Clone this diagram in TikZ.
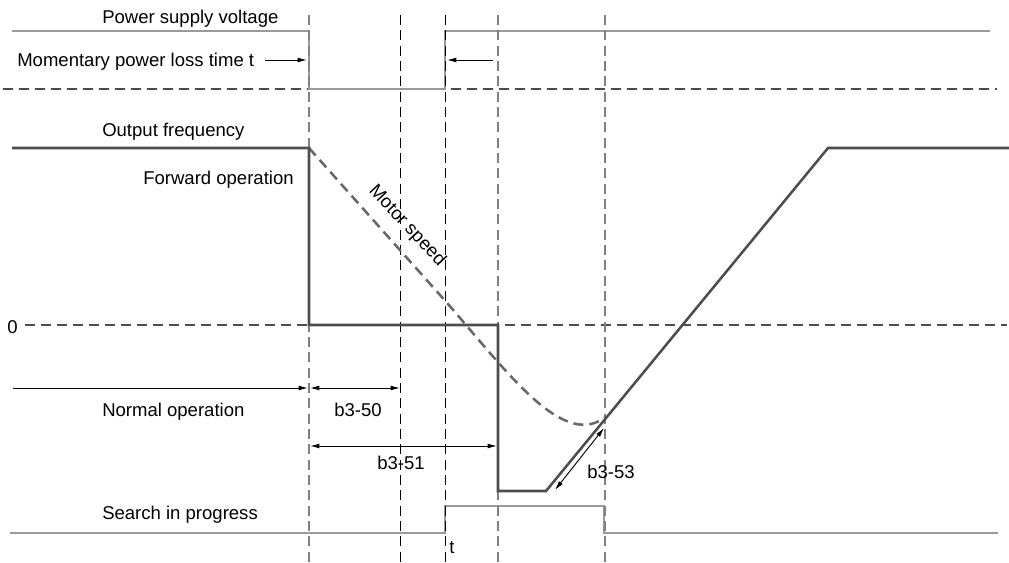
\documentclass[tikz,border=0pt]{standalone}
\usepackage{fontspec}
\setmainfont{Liberation Sans}
\usetikzlibrary{arrows.meta}
\definecolor{sigl}{HTML}{9A9A9A}
\definecolor{sigd}{HTML}{4D4D4D}
\definecolor{grid}{HTML}{808080}
\tikzset{
  lbl/.style={font=\fontsize{13.9}{16}\selectfont, inner sep=0pt, anchor=base west},
  vgray/.style={draw=grid, line width=1.1pt, dash pattern=on 7.5pt off 4pt},
  vblack/.style={draw=black, line width=0.7pt, dash pattern=on 7.5pt off 4pt},
  hdash/.style={draw=sigd, line width=0.9pt, dash pattern=on 7.5pt off 4.5pt},
  lightsig/.style={draw=sigl, line width=1.9pt},
  darksig/.style={draw=sigd, line width=1.9pt, line join=miter},
  motor/.style={draw=sigd!85, line width=1.9pt, dash pattern=on 7.5pt off 4.5pt},
  dim/.style={draw=black, line width=0.7pt, -{Latex[length=7pt,width=3.6pt]}},
  ddim/.style={draw=black, line width=0.7pt, {Latex[length=7pt,width=3.6pt]}-{Latex[length=7pt,width=3.6pt]}}
}
\begin{document}
\begin{tikzpicture}[x=0.75pt,y=-0.75pt]
\useasboundingbox (0,0) rectangle (1009,563);

% vertical guide lines
\coordinate (v1t) at (309,15); \coordinate (v1b) at (309,563);
\coordinate (v2t) at (400,15); \coordinate (v2b) at (400,563);
\coordinate (v3t) at (445,15); \coordinate (v3b) at (445,563);
\coordinate (v4t) at (498,15); \coordinate (v4b) at (498,563);
\coordinate (v5t) at (605,15); \coordinate (v5b) at (605,563);

% horizontal dashed lines
\coordinate (h1l) at (3,89); \coordinate (h1r) at (997,89);
\coordinate (h0l) at (25,325); \coordinate (h0r) at (1007,325);
\draw[hdash] (h1l) -- (h1r);
\draw[hdash] (h0l) -- (h0r);

% power supply voltage
\coordinate (p0) at (12,31); \coordinate (p1) at (309,31); \coordinate (p2) at (309,89);
\coordinate (p3) at (445,89); \coordinate (p4) at (445,31); \coordinate (p5) at (990,31);
\draw[lightsig] (p0) -- (p1) -- (p2) -- (p3) -- (p4) -- (p5);

% search in progress
\coordinate (s0) at (10,533); \coordinate (s1) at (445,533); \coordinate (s2) at (445,506);
\coordinate (s3) at (604,506); \coordinate (s4) at (604,533); \coordinate (s5) at (998,533);
\draw[lightsig] (s0) -- (s1) -- (s2) -- (s3) -- (s4) -- (s5);

% vertical lines on top
\draw[vgray] (v1t) -- (v1b);
\draw[vblack] (v2t) -- (v2b);
\draw[vblack] (v3t) -- (v3b);
\draw[vgray] (v4t) -- (v4b);
\draw[vgray] (v5t) -- (v5b);

% motor speed
\coordinate (m0) at (309,148); \coordinate (m1) at (440,295); \coordinate (m2) at (604,418);
\draw[motor] (m0) -- (m1) .. controls (500,362) and (560,450) .. (m2);

% output frequency
\coordinate (f0) at (12,148); \coordinate (f1) at (309,148); \coordinate (f2) at (309,325);
\coordinate (f3) at (498,325); \coordinate (f4) at (498,491); \coordinate (f5) at (546,491);
\coordinate (f6) at (828,148); \coordinate (f7) at (1009,148);
\draw[darksig] (f0) -- (f1) -- (f2) -- (f3) -- (f4) -- (f5) -- (f6) -- (f7);

% labels
\node[lbl] (tpsv) at (102,24) {Power supply voltage};
\node[lbl] (tmpl) at (17,67) {Momentary power loss time t};
\node[lbl] (tof) at (102,137) {Output frequency};
\node[lbl] (tfo) at (143,185) {Forward operation};
\node[lbl] (tzero) at (7,333) {0};
\node[lbl] (tno) at (102,416) {Normal operation};
\node[lbl] (tsip) at (102,519) {Search in progress};
\node[lbl] (tb50) at (334,416) {b3-50};
\node[lbl] (tb51) at (377,469) {b3-51};
\node[lbl] (tb53) at (587,478) {b3-53};
\node[lbl] (tt) at (449,553) {t};
\node[font=\fontsize{13.9}{16}\selectfont, inner sep=0pt, rotate=-47] (tms) at (407,226) {Motor speed};

% dimension arrows
\coordinate (a1s) at (265,60); \coordinate (a1e) at (307,60);
\coordinate (a2s) at (493,60); \coordinate (a2e) at (447,60);
\draw[dim] (a1s) -- (a1e);
\draw[dim] (a2s) -- (a2e);
\coordinate (n0) at (13,388); \coordinate (n1) at (308,388);
\draw[dim] (n0) -- (n1);
\coordinate (d50a) at (310,388); \coordinate (d50b) at (400,388);
\draw[ddim] (d50a) -- (d50b);
\coordinate (d51a) at (310,446); \coordinate (d51b) at (497,446);
\draw[ddim] (d51a) -- (d51b);
\coordinate (d53a) at (555,490); \coordinate (d53b) at (604,428);
\draw[ddim] (d53a) -- (d53b);
\end{tikzpicture}
\end{document}
